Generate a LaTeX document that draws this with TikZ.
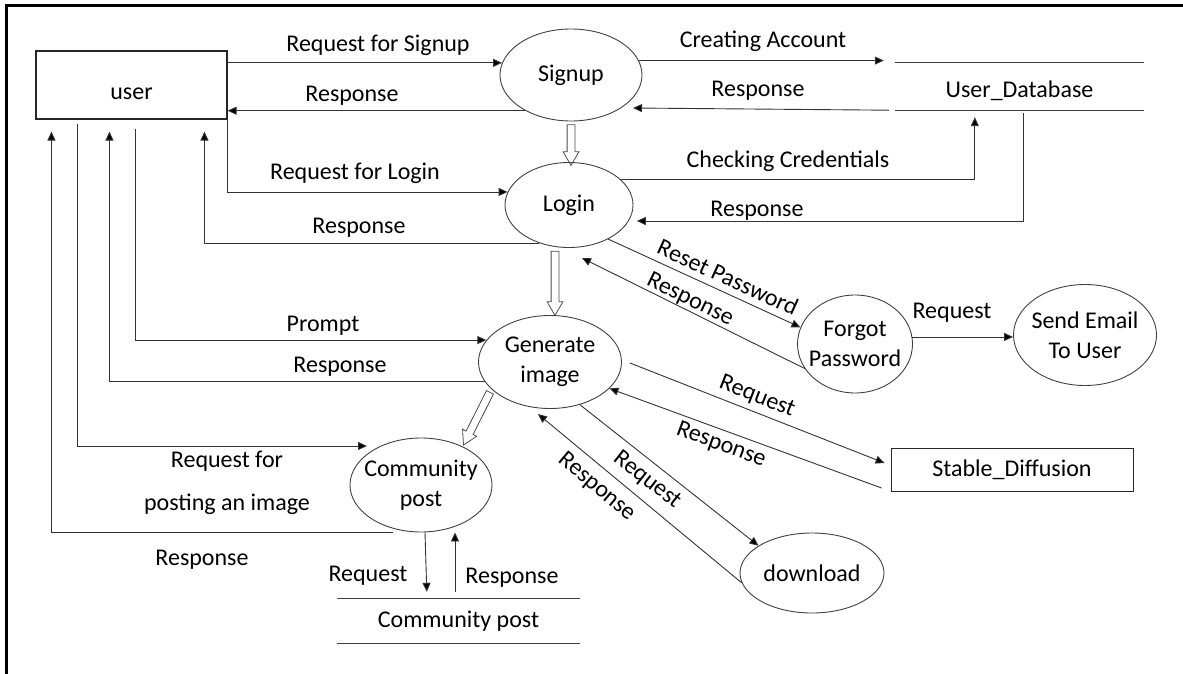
\documentclass[tikz,border=0pt]{standalone}
\usepackage{fontspec}
\setmainfont{Carlito}
\usetikzlibrary{arrows.meta,shapes.geometric,shapes.arrows,calc}

% hollow block arrow between two named points: name, from, to
\newcommand\hollowflow[3]{%
  \path let \p1=($(#3)-(#2)$), \n1={veclen(\x1,\y1)}, \n2={atan2(\y1,\x1)} in
    node[hollow,minimum height=\n1,rotate=\n2] (#1) at ($(#2)!0.5!(#3)$) {};}

\begin{document}
\begin{tikzpicture}[x=1pt,y=-1pt,
  every node/.style={font=\fontsize{24}{30}\selectfont},
  proc/.style={ellipse,draw=black!75,line width=0.9pt,inner sep=-7pt,align=center},
  ent/.style={rectangle,draw=black!85,line width=1.1pt,inner sep=0pt},
  store/.style={rectangle,inner sep=0pt},
  flow/.style={draw=black!80,line width=0.9pt,-{Triangle[length=9pt,width=8pt,fill=black]}},
  link/.style={draw=black!75,line width=0.9pt},
  lbl/.style={inner sep=0pt},
  hollow/.style={single arrow,draw=black!70,line width=0.8pt,inner xsep=0pt,inner ysep=3.5pt,
    single arrow head extend=4pt,single arrow tip angle=60,
    single arrow head indent=0pt}
]
\useasboundingbox (0,0) rectangle (1183,674);

% page frame
\draw[line width=3pt] (6,690) -- (6,6) -- (1195,6);

% entities and processes
\node[ent,minimum width=191pt,minimum height=68pt,text height=30pt,text depth=0pt] (user) at (131.5,85) {user};
\node[proc,minimum width=142pt,minimum height=92pt] (signup) at (571,75) {Signup};
\node[proc,minimum width=128pt,minimum height=85pt] (login) at (569,205) {Login};
\node[proc,minimum width=143pt,minimum height=93pt] (gen) at (550,362) {Generate\\image};
\node[proc,minimum width=142pt,minimum height=94pt] (comm) at (421,485) {Community\\post};
\node[proc,minimum width=115pt,minimum height=98pt] (forgot) at (855,344) {Forgot\\Password};
\node[proc,minimum width=143pt,minimum height=101pt] (email) at (1085,335) {Send Email\\To User};
\node[proc,minimum width=144pt,minimum height=80pt] (dl) at (812,573) {download};
\node[ent,line width=0.9pt,minimum width=242pt,minimum height=43pt] (stable) at (1012,469.5) {Stable\_Diffusion};

% data stores
\node[store,minimum width=249pt,minimum height=47pt,text height=23pt,text depth=0pt] (udb) at (1019.5,86.5) {User\_Database};
\draw[link] (udb.north west) -- (udb.north east) (udb.south west) -- (udb.south east);
\node[store,minimum width=243pt,minimum height=44pt] (cstore) at (458.5,621) {Community post};
\draw[link] (cstore.north west) -- (cstore.north east) (cstore.south west) -- (cstore.south east);

% user <-> signup / login
\draw[flow] (user.east |- signup.170) -- (signup.170);
\draw[flow] (signup.218) -- (user.east |- signup.218);
\draw[flow] (user.south east) |- (login.168);
\draw[flow,shorten >=12pt] (login.232) -| ([xshift=169pt]user.south west);

% user <-> generate image
\draw[flow,shorten <=9pt] ([xshift=100pt]user.south west) |- (gen.161);
\draw[flow,shorten >=12pt] (gen.197) -| ([xshift=74pt]user.south west);

% user <-> community post
\draw[flow,shorten <=4pt] ([xshift=42pt]user.south west) |- ($(comm.center)+(-54,-39)$);
\draw[flow,shorten >=12pt] ([xshift=-28pt]comm.south) -| ([xshift=16pt]user.south west);

% community post <-> store
\draw[flow,shorten >=7pt] ([xshift=4pt]comm.south) -- ([xshift=6pt]comm.south |- cstore.north);
\draw[flow,shorten <=7pt] ([xshift=34pt]comm.south |- cstore.north) -- ([xshift=34pt]comm.south);

% signup / login <-> user database
\draw[flow,shorten >=11pt] (signup.12) -- (udb.west |- signup.12);
\draw[flow] ([xshift=-6pt]udb.south west) -- ($(signup.center)+(62,33)$);
\draw[flow,shorten >=7pt] (login.26) -| ([xshift=80pt]udb.south west);
\draw[flow,shorten <=3pt,shorten >=8pt] ([xshift=129pt]udb.south west) |- (login.-15);

% password reset
\draw[flow] (login.-41) -- (forgot.163);
\draw[flow] (forgot.206) -- ($(login.center)+(13,53)$);
\draw[flow] (forgot.7) -- (email.west |- forgot.7);

% generate image <-> stable diffusion / download
\draw[flow] ($(gen.east)+(8,1)$) -- ($(stable.west)+(-6,-6.5)$);
\draw[flow] ($(stable.west)+(-9,18.5)$) -- (gen.-24);
\draw[flow] (gen.-55) -- (dl.153);
\draw[flow] (dl.188) -- ($(gen.center)+(-12,52)$);

% process sequence
\coordinate (sl1) at (signup.south);
\coordinate (sl2) at (signup.south |- login.north);
\coordinate (lg1) at ($(login.south)+(-14,0)$);
\coordinate (lg2) at ($(gen.north)+(5,-3)$);
\coordinate (gc1) at (gen.205);
\coordinate (gc2) at ($(comm.center)+(44,-43)$);
\hollowflow{hSL}{sl1}{sl2}
\hollowflow{hLG}{lg1}{lg2}
\hollowflow{hGC}{gc1}{gc2}

% flow labels
\node[lbl] (tReqSignup) at (378,45) {Request for Signup};
\node[lbl] (tRespSignup) at (352,96) {Response};
\node[lbl] (tReqLogin) at (355,173) {Request for Login};
\node[lbl] (tRespLogin) at (359,228) {Response};
\node[lbl] (tPrompt) at (323,326) {Prompt};
\node[lbl] (tRespGen) at (340,367) {Response};
\node[lbl,align=center] (tReqPost) at (227,483) {Request for\\[13pt]posting an image};
\node[lbl] (tRespPost) at (202,560) {Response};
\node[lbl] (tReqStore) at (368,576) {Request};
\node[lbl] (tRespStore) at (512,578) {Response};
\node[lbl] (tCreate) at (763,41) {Creating Account};
\node[lbl] (tRespDb) at (758,91) {Response};
\node[lbl] (tCheck) at (788,161) {Checking Credentials};
\node[lbl] (tRespCheck) at (757,211) {Response};
\node[lbl,rotate=-24.6] (tReset) at (728,277) {Reset Password};
\node[lbl,rotate=-26] (tRespReset) at (690,300) {Response};
\node[lbl] (tReqMail) at (952,313) {Request};
\node[lbl,rotate=-21.4] (tReqSD) at (757,397) {Request};
\node[lbl,rotate=-20] (tRespSD) at (721,445) {Response};
\node[lbl,rotate=-38] (tReqDl) at (647,480) {Request};
\node[lbl,rotate=-40] (tRespDl) at (597,487) {Response};
\end{tikzpicture}
\end{document}
